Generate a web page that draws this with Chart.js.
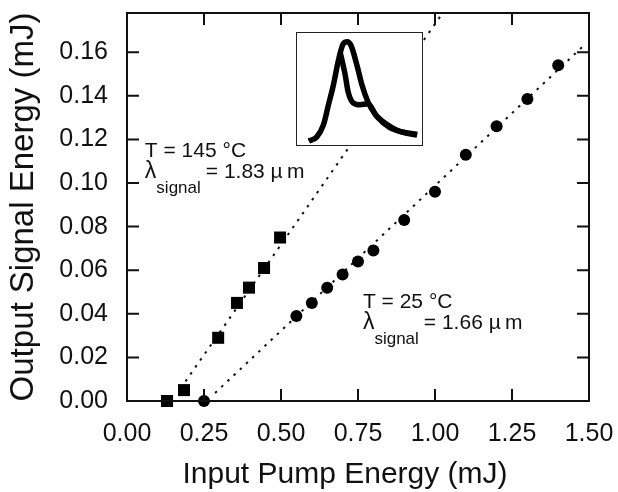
<!DOCTYPE html>
<html>
<head>
<meta charset="utf-8">
<script src="https://cdn.jsdelivr.net/npm/chart.js@4"></script>
<style>
  body { margin: 0; background: #fff; }
  #wrap { position: relative; width: 618px; height: 492px; }
  #insetBox { position: absolute; left: 296px; top: 32px; width: 127px; height: 114px;
    box-sizing: border-box; border: 1px solid #222; background: #fff; }
</style>
</head>
<body>
<div id="wrap">
  <canvas id="chart" width="618" height="492"></canvas>
  <div id="insetBox"><canvas id="inset" width="125" height="112"></canvas></div>
</div>
<script>
// T = 145 C run (squares)
const hotPump = [0.13, 0.185, 0.296, 0.357, 0.396, 0.445, 0.497];
const hotSignal = [0.000, 0.005, 0.029, 0.045, 0.052, 0.061, 0.075];
// T = 25 C run (circles)
const roomPump = [0.25, 0.55, 0.60, 0.65, 0.70, 0.75, 0.80, 0.90, 1.00, 1.10, 1.20, 1.30, 1.40];
const roomSignal = [0.000, 0.039, 0.045, 0.052, 0.058, 0.064, 0.069, 0.083, 0.096, 0.113, 0.126, 0.1385, 0.154];
// dotted linear fits (end points)
const hotFitPump = [0.19, 1.02];
const hotFitSignal = [0.009, 0.177];
const roomFitPump = [0.286, 1.49];
const roomFitSignal = [0.0037, 0.164];
// inset pulse shapes (arb. time, arb. amplitude)
const pulseOuterT = [0.94, 1.57, 2.13, 2.52, 2.91, 3.31, 3.70, 4.02, 4.33, 4.80, 5.20, 5.67, 6.22, 6.85, 7.56, 8.19, 8.98, 9.61];
const pulseOuterA = [0.035, 0.07, 0.184, 0.36, 0.535, 0.754, 0.904, 0.921, 0.886, 0.71, 0.535, 0.386, 0.28, 0.21, 0.158, 0.123, 0.105, 0.096];
const pulseInnerT = [3.46, 3.86, 4.09, 4.49, 5.04, 5.67, 6.38, 7.40, 8.50, 9.61];
const pulseInnerA = [0.825, 0.623, 0.474, 0.377, 0.36, 0.368, 0.254, 0.158, 0.114, 0.088];

const xTicks = [0, 0.25, 0.5, 0.75, 1.0, 1.25, 1.5];
const yTicks = [0, 0.02, 0.04, 0.06, 0.08, 0.10, 0.12, 0.14, 0.16];

const FONT = "'Liberation Sans', Arial, Helvetica, sans-serif";
const pts = (xs, ys) => xs.map((v, i) => ({ x: v, y: ys[i] }));

// annotation texts, placed in data coordinates
const notes = [
  { x: 0.058, y: 0.1118, temp: 'T = 145 °C', lambda: '= 1.83 µ\u2009m' },
  { x: 0.766, y: 0.0427, temp: 'T = 25 °C', lambda: '= 1.66 µ\u2009m' }
];

const framePlugin = {
  id: 'frame',
  afterDatasetsDraw(chart) {
    const { ctx, chartArea: a, scales: { x, y } } = chart;
    ctx.save();
    ctx.strokeStyle = '#111';
    ctx.lineWidth = 2;
    ctx.strokeRect(a.left, a.top, a.right - a.left, a.bottom - a.top);
    ctx.beginPath();
    xTicks.forEach(v => {
      const px = x.getPixelForValue(v);
      ctx.moveTo(px, a.bottom); ctx.lineTo(px, a.bottom - 12);
      ctx.moveTo(px, a.top); ctx.lineTo(px, a.top + 12);
    });
    yTicks.forEach(v => {
      const py = y.getPixelForValue(v);
      ctx.moveTo(a.left, py); ctx.lineTo(a.left + 12, py);
      ctx.moveTo(a.right, py); ctx.lineTo(a.right - 12, py);
    });
    ctx.stroke();
    ctx.restore();
  },
  afterDraw(chart) {
    const { ctx, scales: { x, y } } = chart;
    ctx.save();
    ctx.fillStyle = '#111';
    // axis titles
    ctx.font = '30px ' + FONT;
    ctx.textAlign = 'center';
    ctx.textBaseline = 'alphabetic';
    ctx.fillText('Input Pump Energy (mJ)', 345, 483);
    ctx.translate(33, 207);
    ctx.rotate(-Math.PI / 2);
    ctx.font = '33px ' + FONT;
    ctx.fillText('Output Signal Energy (mJ)', 0, 0);
    ctx.restore();

    ctx.save();
    ctx.fillStyle = '#111';
    ctx.textAlign = 'left';
    ctx.textBaseline = 'alphabetic';
    notes.forEach(n => {
      const px = x.getPixelForValue(n.x);
      const py = y.getPixelForValue(n.y);
      ctx.font = '21px ' + FONT;
      ctx.fillText(n.temp, px, py);
      ctx.font = '23px ' + FONT;
      ctx.fillText('λ', px, py + 21);
      const lw = ctx.measureText('λ').width;
      ctx.font = '17px ' + FONT;
      ctx.fillText('signal', px + lw, py + 36);
      const sw = ctx.measureText('signal').width;
      ctx.font = '21px ' + FONT;
      ctx.fillText(n.lambda, px + lw + sw + 5, py + 21);
    });
    ctx.restore();
  }
};

const tickFont = { family: FONT, size: 25 };

new Chart(document.getElementById('chart'), {
  type: 'scatter',
  data: {
    datasets: [
      {
        label: 'T = 145 °C',
        data: pts(hotPump, hotSignal),
        pointStyle: 'rect',
        pointRadius: 8.5,
        backgroundColor: '#000',
        borderColor: '#000',
        borderWidth: 0,
        clip: false
      },
      {
        label: 'T = 25 °C',
        data: pts(roomPump, roomSignal),
        pointStyle: 'circle',
        pointRadius: 6,
        backgroundColor: '#000',
        borderColor: '#000',
        borderWidth: 0,
        clip: false
      },
      {
        label: 'fit 145',
        data: pts(hotFitPump, hotFitSignal),
        showLine: true,
        pointRadius: 0,
        borderColor: '#111',
        borderWidth: 2,
        borderDash: [2.5, 6]
      },
      {
        label: 'fit 25',
        data: pts(roomFitPump, roomFitSignal),
        showLine: true,
        pointRadius: 0,
        borderColor: '#111',
        borderWidth: 2,
        borderDash: [2.5, 6]
      }
    ]
  },
  options: {
    responsive: false,
    animation: false,
    devicePixelRatio: 1,
    layout: { padding: { top: 13, right: 29, left: 0, bottom: 0 } },
    plugins: { legend: { display: false }, tooltip: { enabled: false } },
    scales: {
      x: {
        type: 'linear',
        min: 0,
        max: 1.5,
        grid: { display: false, drawTicks: false },
        border: { display: false },
        ticks: {
          stepSize: 0.25,
          color: '#111',
          font: tickFont,
          padding: 18,
          maxRotation: 0,
          callback: v => v.toFixed(2)
        },
        afterFit(s) { s.height = 91; s.paddingLeft = 0; s.paddingRight = 0; }
      },
      y: {
        type: 'linear',
        min: 0,
        max: 0.178,
        grid: { display: false, drawTicks: false },
        border: { display: false },
        ticks: {
          stepSize: 0.02,
          includeBounds: false,
          color: '#111',
          font: tickFont,
          padding: 19,
          callback: v => v.toFixed(2)
        },
        afterFit(s) { s.width = 127; s.paddingTop = 0; s.paddingBottom = 0; }
      }
    }
  },
  plugins: [framePlugin]
});

// inset: pulse shapes
new Chart(document.getElementById('inset'), {
  type: 'line',
  data: {
    datasets: [
      {
        data: pts(pulseOuterT, pulseOuterA),
        borderColor: '#000',
        borderWidth: 5.5,
        pointRadius: 0,
        cubicInterpolationMode: 'monotone'
      },
      {
        data: pts(pulseInnerT, pulseInnerA),
        borderColor: '#000',
        borderWidth: 5.5,
        pointRadius: 0,
        cubicInterpolationMode: 'monotone'
      }
    ]
  },
  options: {
    responsive: false,
    animation: false,
    devicePixelRatio: 1,
    layout: { padding: 0 },
    plugins: { legend: { display: false }, tooltip: { enabled: false } },
    scales: {
      x: { type: 'linear', min: 0, max: 10, display: false },
      y: { type: 'linear', min: 0, max: 1, display: false }
    }
  }
});
</script>
</body>
</html>
